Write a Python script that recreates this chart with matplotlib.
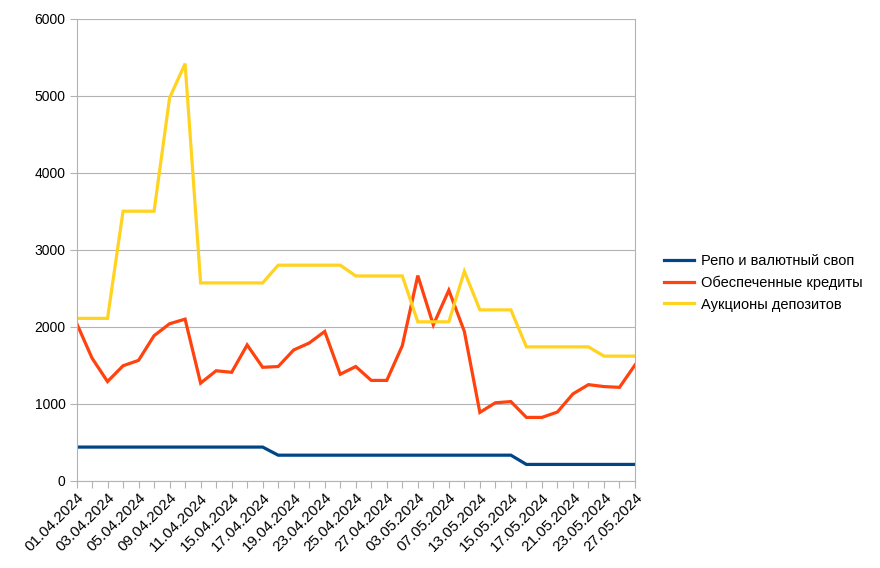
import matplotlib
matplotlib.use("Agg")
import matplotlib.pyplot as plt
import matplotlib.transforms as mtransforms

plt.rcParams['font.family'] = ['Liberation Sans', 'DejaVu Sans']

dates = ["01.04.2024", "02.04.2024", "03.04.2024", "04.04.2024", "05.04.2024",
         "08.04.2024", "09.04.2024", "10.04.2024", "11.04.2024", "12.04.2024",
         "15.04.2024", "16.04.2024", "17.04.2024", "18.04.2024", "19.04.2024",
         "22.04.2024", "23.04.2024", "24.04.2024", "25.04.2024", "26.04.2024",
         "27.04.2024", "02.05.2024", "03.05.2024", "06.05.2024", "07.05.2024",
         "08.05.2024", "13.05.2024", "14.05.2024", "15.05.2024", "16.05.2024",
         "17.05.2024", "20.05.2024", "21.05.2024", "22.05.2024", "23.05.2024",
         "24.05.2024", "27.05.2024"]

repo_swap = [440] * 13 + [335] * 16 + [215] * 8

secured_loans = [2050, 1595, 1290, 1495, 1565, 1885, 2040, 2100, 1270, 1430,
                 1410, 1765, 1475, 1485, 1700, 1790, 1940, 1385, 1485, 1305,
                 1305, 1755, 2665, 2025, 2475, 1940, 890, 1015, 1030, 825,
                 825, 895, 1130, 1250, 1225, 1215, 1505]

deposit_auctions = [2110, 2110, 2110, 3500, 3500, 3500, 4970, 5415, 2570, 2570,
                    2570, 2570, 2570, 2800, 2800, 2800, 2800, 2800, 2660, 2660,
                    2660, 2660, 2065, 2065, 2065, 2720, 2220, 2220, 2220, 1740,
                    1740, 1740, 1740, 1740, 1620, 1620, 1620]

series_names = ["Репо и валютный своп", "Обеспеченные кредиты", "Аукционы депозитов"]
colors = ["#004586", "#ff420e", "#ffd320"]

fig = plt.figure(figsize=(8.8, 5.68), dpi=100)
ax = fig.add_axes([76.5 / 880, 87 / 568, (635 - 76.5) / 880, (481 - 18.5) / 568])

x = list(range(len(dates)))
for vals, name, c in zip([repo_swap, secured_loans, deposit_auctions], series_names, colors):
    ax.plot(x, vals, color=c, lw=2.3, label=name, solid_joinstyle='miter')

ax.set_xlim(0, len(dates) - 1)
ax.set_ylim(0, 6000)
ax.set_yticks(range(0, 6001, 1000))
ax.grid(axis='y', color='#b3b3b3', lw=0.8)
ax.set_axisbelow(True)
ax.set_xticks(x)
ax.set_xticklabels([d if i % 2 == 0 else "" for i, d in enumerate(dates)],
                   rotation=45, ha='right', va='top', rotation_mode='anchor', fontsize=11)
offset = mtransforms.ScaledTranslation(-3 / 100, -3 / 100, fig.dpi_scale_trans)
for lbl in ax.get_xticklabels():
    lbl.set_transform(lbl.get_transform() + offset)
ax.tick_params(axis='x', length=5, color='#b3b3b3', pad=2)
ax.tick_params(axis='y', length=5, color='#b3b3b3', labelsize=10, pad=3)
for s in ax.spines.values():
    s.set_color('#b3b3b3')
    s.set_linewidth(0.8)
ax.spines['top'].set_visible(False)

leg = fig.legend(loc='center left', bbox_to_anchor=(658 / 880, 1 - 283 / 568),
                 frameon=False, fontsize=10.5, handlelength=2.1, handletextpad=0.45,
                 labelspacing=0.5, borderaxespad=0)

fig.savefig("out.png", dpi=100)
